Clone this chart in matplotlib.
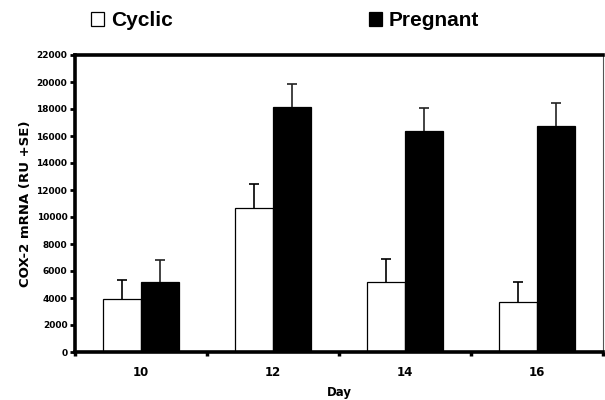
import matplotlib
matplotlib.use('Agg')
import matplotlib.pyplot as plt
import numpy as np

days = ['10', '12', '14', '16']
cyclic = [3900, 10700, 5200, 3700]
cyclic_se = [1400, 1750, 1670, 1480]
pregnant = [5150, 18150, 16400, 16740]
pregnant_se = [1680, 1700, 1670, 1730]

plt.rcParams['font.family'] = 'DejaVu Sans'
plt.rcParams['font.weight'] = 'bold'

fig = plt.figure(figsize=(6.05, 4.0), dpi=100)
ax = fig.add_axes([0.124, 0.12, 0.873, 0.7425])

x = np.arange(len(days))
w = 0.29
b1 = ax.bar(x - w/2, cyclic, w, color='white', edgecolor='black', linewidth=0.9,
            yerr=[np.zeros(4), cyclic_se], capsize=3.5,
            error_kw=dict(elinewidth=1.2, capthick=1.2, ecolor='black'))
b2 = ax.bar(x + w/2, pregnant, w, color='black', edgecolor='black', linewidth=0.9,
            yerr=[np.zeros(4), pregnant_se], capsize=3.5,
            error_kw=dict(elinewidth=1.2, capthick=1.2, ecolor='#222222'))
# only the upper caps should show
for b in (b1, b2):
    b.errorbar.lines[1][0].set_visible(False)

ax.set_xlim(-0.5, 3.5)
ax.set_ylim(0, 22000)
ax.set_yticks(np.arange(0, 22001, 2000))
ax.tick_params(axis='y', labelsize=6.5, width=2, length=3.5, direction='out', pad=2)

# category labels between boundary ticks
ax.set_xticks(np.arange(-0.5, 3.6, 1.0))
ax.set_xticklabels([])
ax.set_xticks(x, minor=True)
ax.set_xticklabels(days, minor=True)
ax.tick_params(axis='x', which='major', width=2.5, length=3, direction='out')
ax.tick_params(axis='x', which='minor', length=0, labelsize=8.5, pad=10)

for s in ['left', 'bottom', 'top']:
    ax.spines[s].set_linewidth(2.6)
ax.spines['right'].set_linewidth(0.8)
ax.spines['right'].set_color('#555555')

ax.set_xlabel('Day', fontsize=8.5, fontweight='bold', labelpad=5)
ax.set_ylabel('COX-2 mRNA (RU +SE)', fontsize=9.5, fontweight='bold', labelpad=3)

fig.legend([b1, b2], ['Cyclic', 'Pregnant'], loc='center left',
           bbox_to_anchor=(91/605, 1 - 21/400), ncol=2, frameon=False,
           prop=dict(family='Liberation Sans', weight='bold', size=15),
           handlelength=0.62, handleheight=0.62, handletextpad=0.35,
           columnspacing=9.4, borderpad=0, borderaxespad=0)

fig.savefig('out.png', dpi=100)
